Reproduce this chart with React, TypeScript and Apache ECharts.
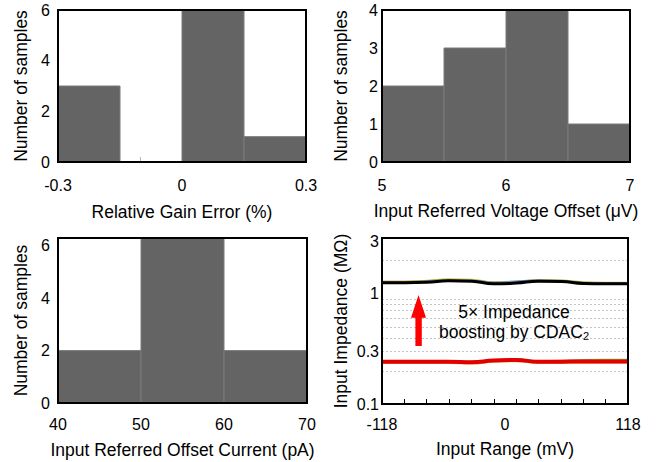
import React, { useEffect, useRef } from 'react';
import * as echarts from 'echarts';

// Panel 1: Relative gain error histogram
const gainEdges = [-0.3, -0.15, 0, 0.15, 0.3];
const gainCounts = [3, 0, 6, 1];
const gainLabels = [-0.3, 0, 0.3];
const gainTicks = [-0.2, -0.1, 0.1, 0.2];
const countLabels6 = [0, 2, 4, 6];

// Panel 2: Input referred voltage offset histogram
const voltEdges = [5, 5.5, 6, 6.5, 7];
const voltCounts = [2, 3, 4, 1];
const voltLabels = [5, 6, 7];
const voltTicks = [5.25, 5.75, 6.25, 6.75];
const countLabels4 = [0, 1, 2, 3, 4];

// Panel 3: Input referred offset current histogram
const currEdges = [40, 50, 60, 70];
const currCounts = [2, 6.3, 2];
const currLabels = [40, 50, 60, 70];
const currTicks = [45, 55, 65];

// Panel 4: Input impedance vs input range
const rangeX = [-118, -96, -75, -54, -32, -11, 11, 32, 54, 75, 96, 118];
const impYellowHi = [1.29, 1.29, 1.31, 1.35, 1.34, 1.27, 1.29, 1.33, 1.32, 1.27, 1.26, 1.26];
const impGreenHi = [1.28, 1.28, 1.3, 1.33, 1.32, 1.26, 1.28, 1.32, 1.31, 1.26, 1.25, 1.25];
const impBlueHi = [1.27, 1.27, 1.29, 1.32, 1.31, 1.26, 1.29, 1.32, 1.3, 1.25, 1.24, 1.24];
const impBlack = [1.26, 1.26, 1.27, 1.31, 1.3, 1.23, 1.25, 1.3, 1.29, 1.24, 1.23, 1.23];
const impYellowLo = [0.237, 0.237, 0.237, 0.237, 0.234, 0.243, 0.246, 0.237, 0.237, 0.238, 0.238, 0.238];
const impGreenLo = [0.243, 0.243, 0.243, 0.243, 0.24, 0.249, 0.252, 0.244, 0.245, 0.249, 0.25, 0.25];
const impRed = [0.242, 0.242, 0.242, 0.242, 0.239, 0.248, 0.251, 0.241, 0.242, 0.243, 0.243, 0.243];
const rangeLabels = [-118, 0, 118];
const rangeTicks = [-96.5, -75.1, -53.6, -32.2, -10.7, 10.7, 32.2, 53.6, 75.1, 96.5];
const impLabels = [0.1, 0.3, 1, 3];
const impGridValues = [0.2, 0.3, 0.4, 0.5, 0.6, 0.7, 0.8, 0.9, 2];
const impMin = 0.1;
const impMax = 3.2;

const FONT = "'Liberation Sans', Arial, sans-serif";
const TICK_FS = 16;
const NAME_FS = 17.5;

const lg = (v: number) => Math.log10(v);

function histData(edges: number[], counts: number[]) {
  return counts.map((c, i) => [edges[i], edges[i + 1], c]);
}

const renderBin = (params: any, api: any) => {
  const x0 = api.value(0);
  const x1 = api.value(1);
  const y = api.value(2);
  const p0 = api.coord([x0, 0]);
  const p1 = api.coord([x1, y]);
  return {
    type: 'rect',
    shape: { x: p0[0], y: p1[1], width: p1[0] - p0[0], height: p0[1] - p1[1] },
    style: { fill: '#646464', stroke: '#7a7a7a', lineWidth: 1 },
  };
};

function xAxisCfg(grid: number, min: number, max: number, labels: number[], ticks: number[], name: string, margin: number, nameGap: number, tickColor: string, fmt?: (v: number) => string) {
  return {
    type: 'value',
    gridIndex: grid,
    min,
    max,
    axisLine: { show: false, onZero: false },
    splitLine: { show: false },
    axisTick: { show: true, inside: true, length: 5, customValues: ticks, lineStyle: { color: tickColor, width: 1 } },
    axisLabel: {
      customValues: labels,
      margin,
      fontSize: TICK_FS,
      color: '#000',
      fontFamily: FONT,
      formatter: fmt || ((v: number) => String(v)),
    },
    name,
    nameLocation: 'middle',
    nameGap,
    nameTextStyle: { fontSize: NAME_FS, color: '#000', fontFamily: FONT },
  };
}

function yAxisCfg(grid: number, min: number, max: number, labels: number[], name: string, margin: number, nameGap: number, fmt?: (v: number) => string) {
  return {
    type: 'value',
    gridIndex: grid,
    min,
    max,
    axisLine: { show: false, onZero: false },
    splitLine: { show: false },
    axisTick: { show: false },
    axisLabel: {
      customValues: labels,
      margin,
      fontSize: TICK_FS,
      color: '#000',
      fontFamily: FONT,
      formatter: fmt || ((v: number) => String(v)),
    },
    name,
    nameLocation: 'middle',
    nameGap,
    nameTextStyle: { fontSize: NAME_FS, color: '#000', fontFamily: FONT },
  };
}

const impLabelFmt = (v: number) => {
  for (const l of impLabels) {
    if (Math.abs(lg(l) - v) < 1e-6) return String(l);
  }
  return '';
};

export default function App() {
  const ref = useRef<HTMLDivElement>(null);
  useEffect(() => {
    if (!ref.current) return;
    const chart = echarts.init(ref.current, null, { renderer: 'svg' });
    const gridBase = { show: true, borderColor: '#000', borderWidth: 2, backgroundColor: 'transparent', z: 10 };
    const lineSeries = (data: number[], color: string, width: number, z: number, extra: any = {}) => ({
      type: 'line',
      xAxisIndex: 3,
      yAxisIndex: 3,
      data: rangeX.map((x, i) => [x, lg(data[i])]),
      smooth: true,
      symbol: 'none',
      lineStyle: { color, width },
      z,
      silent: true,
      ...extra,
    });
    chart.setOption({
      animation: false,
      textStyle: { fontFamily: FONT },
      grid: [
        { ...gridBase, left: 58, top: 10, width: 248, height: 152 },
        { ...gridBase, left: 382, top: 10, width: 248, height: 152 },
        { ...gridBase, left: 58, top: 238, width: 249, height: 165 },
        { ...gridBase, left: 382, top: 238, width: 246, height: 166 },
      ],
      xAxis: [
        xAxisCfg(0, -0.3, 0.3, gainLabels, gainTicks, 'Relative Gain Error (%)', 15, 41, '#b8b8b8'),
        xAxisCfg(1, 5, 7, voltLabels, voltTicks, 'Input Referred Voltage Offset (μV)', 15, 40, '#b8b8b8'),
        xAxisCfg(2, 40, 70, currLabels, currTicks, 'Input Referred Offset Current (pA)', 13, 38, '#b8b8b8'),
        xAxisCfg(3, -118, 118, rangeLabels, rangeTicks, 'Input Range (mV)', 12, 36, '#000'),
      ],
      yAxis: [
        yAxisCfg(0, 0, 6, countLabels6, 'Number of samples', 8, 28),
        yAxisCfg(1, 0, 4, countLabels4, 'Number of samples', 4, 32),
        yAxisCfg(2, 0, 6.3, countLabels6, 'Number of samples', 8, 28),
        yAxisCfg(3, lg(impMin), lg(impMax), impLabels.map(lg), 'Input Impedance (MΩ)', 3, 32, impLabelFmt),
      ],
      series: [
        { type: 'custom', xAxisIndex: 0, yAxisIndex: 0, renderItem: renderBin, data: histData(gainEdges, gainCounts), encode: { x: [0, 1], y: 2 }, silent: true },
        { type: 'custom', xAxisIndex: 1, yAxisIndex: 1, renderItem: renderBin, data: histData(voltEdges, voltCounts), encode: { x: [0, 1], y: 2 }, silent: true },
        { type: 'custom', xAxisIndex: 2, yAxisIndex: 2, renderItem: renderBin, data: histData(currEdges, currCounts), encode: { x: [0, 1], y: 2 }, silent: true, clip: true },
        lineSeries(impYellowHi, '#e0b848', 2, 1, {
          markLine: {
            silent: true,
            symbol: ['none', 'none'],
            label: { show: false },
            lineStyle: { color: '#c4c4c4', width: 1, type: [2, 2] },
            data: impGridValues.map((v) => ({ yAxis: lg(v) })),
          },
        }),
        lineSeries(impGreenHi, '#7cb342', 2, 2),
        lineSeries(impBlueHi, '#5b8fd0', 2, 2),
        lineSeries(impBlack, '#000000', 3, 3),
        lineSeries(impYellowLo, '#e8c040', 2.5, 2),
        lineSeries(impGreenLo, '#7cb342', 2.5, 2),
        lineSeries(impRed, '#e00000', 4, 3),
      ],
      graphic: [
        {
          type: 'polygon',
          shape: {
            points: [
              [418.5, 295],
              [426, 317.7],
              [421.8, 317.7],
              [421.8, 346],
              [415.4, 346],
              [415.4, 317.7],
              [411, 317.7],
            ],
          },
          style: { fill: '#ff0000' },
          z: 20,
        },
        {
          type: 'text',
          x: 514,
          y: 321.7,
          z: 20,
          style: {
            text: '{m|5× Impedance}\n{m|boosting by CDAC}{s|2}',
            align: 'center',
            verticalAlign: 'middle',
            fill: '#000',
            rich: {
              m: { fontSize: NAME_FS, lineHeight: 20, fontFamily: FONT, fill: '#000' },
              s: { fontSize: 11, lineHeight: 12, verticalAlign: 'bottom', fontFamily: FONT, fill: '#000' },
            },
          },
        },
      ],
    });
    return () => chart.dispose();
  }, []);
  return <div ref={ref} style={{ position: 'fixed', left: 0, top: 0, width: 658, height: 462, background: '#fff' }} />;
}
